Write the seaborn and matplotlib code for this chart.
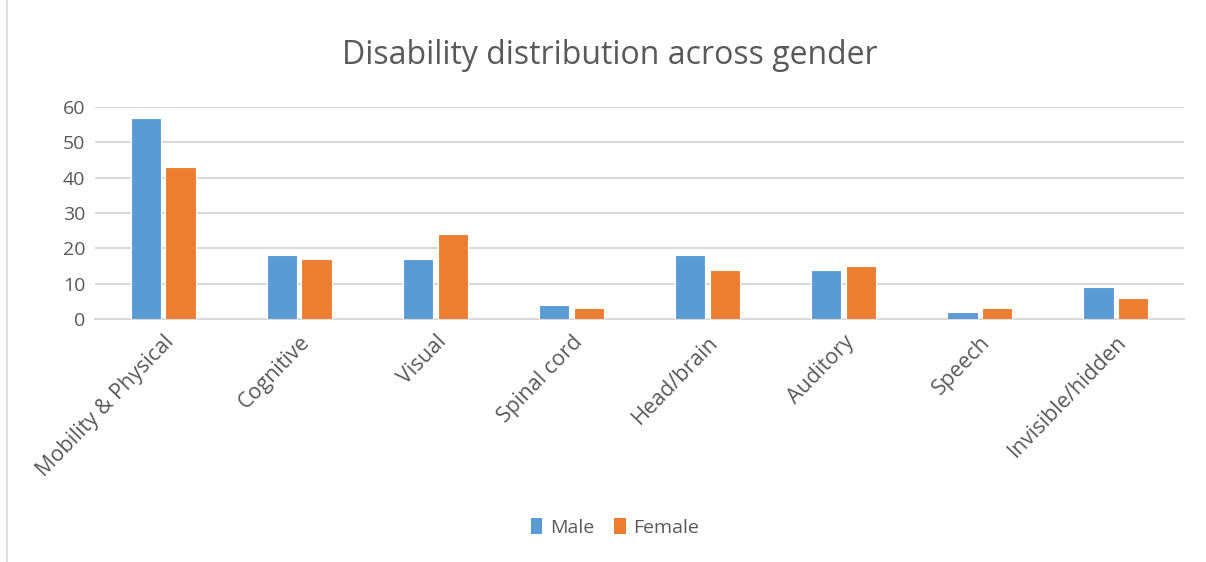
import matplotlib
matplotlib.use("Agg")
import matplotlib.pyplot as plt
import seaborn as sns
import pandas as pd
from matplotlib.patches import Rectangle, Patch

categories = ["Mobility & Physical", "Cognitive", "Visual", "Spinal cord",
              "Head/brain", "Auditory", "Speech", "Invisible/hidden"]
male = [57, 18, 17, 4, 18, 14, 2, 9]
female = [43, 17, 24, 3, 14, 15, 3, 6]
series_names = ["Male", "Female"]
colors = ["#5B9BD5", "#ED7D31"]

df = pd.DataFrame({
    "Category": categories * 2,
    "Value": male + female,
    "Gender": [series_names[0]] * len(categories) + [series_names[1]] * len(categories),
})

sns.set_theme(style="white")
plt.rcParams["font.family"] = ["Open Sans", "DejaVu Sans"]
text_color = "#595959"

fig = plt.figure(figsize=(12.06, 5.62), dpi=100)
ax = fig.add_axes([95 / 1206, 1 - 319 / 562, (1184 - 95) / 1206, (319 - 107) / 562])

sns.barplot(data=df, x="Category", y="Value", hue="Gender", order=categories,
            hue_order=series_names, palette=colors, saturation=1, width=0.51, gap=0.13,
            edgecolor="white", linewidth=0.8, ax=ax, legend=False, zorder=3)

ax.set_ylim(0, 60)
ax.set_yticks(range(0, 61, 10))
ax.set_xlim(-0.5, len(categories) - 0.5)
ax.yaxis.grid(True, color="#D9D9D9", linewidth=1.5, zorder=0)
ax.set_axisbelow(True)
for s in ["top", "right", "left"]:
    ax.spines[s].set_visible(False)
ax.spines["bottom"].set_color("#D9D9D9")
ax.spines["bottom"].set_linewidth(1.5)
ax.set_xlabel("")
ax.set_ylabel("")
ax.tick_params(axis="y", length=0, labelsize=14, labelcolor=text_color, pad=7)
ax.tick_params(axis="x", length=0, labelsize=15.5, labelcolor=text_color, pad=9)
plt.setp(ax.get_xticklabels(), rotation=46, ha="right", rotation_mode="anchor")

fig.text(0.506, 0.902, "Disability distribution across gender", ha="center", va="center",
         fontsize=23, color=text_color)

handles = [Patch(facecolor=c, edgecolor="none") for c in colors]
fig.legend(handles, series_names, loc="center", bbox_to_anchor=(0.51, 0.062), ncol=2,
           frameon=False, fontsize=14, labelcolor=text_color, handlelength=0.6,
           handleheight=0.9, handletextpad=0.4, columnspacing=1.0)

fig.patches.append(Rectangle((0.006, -0.01), 1.1, 1.1, transform=fig.transFigure,
                             fill=False, edgecolor="#D9D9D9", linewidth=1.2))

fig.savefig("out.png", dpi=100)
